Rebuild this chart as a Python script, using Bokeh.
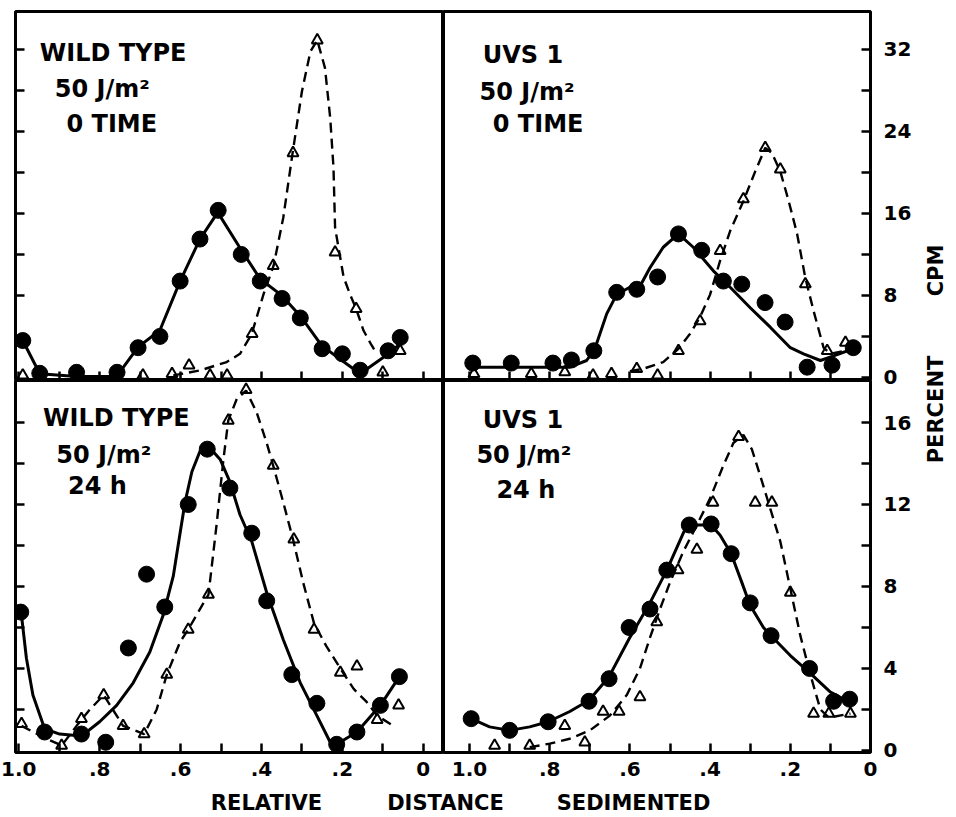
import math
from bokeh.plotting import figure
from bokeh.models import Range1d, FixedTicker, CustomJSTickFormatter, CustomLabelingPolicy
from bokeh.layouts import row, column
from bokeh.embed import file_html
from bokeh.resources import INLINE
from bokeh.core.properties import value

FONT = "DejaVu Sans"

# ---------------- data ----------------
# Top-left: WILD TYPE, 50 J/m2, 0 TIME
tl_circ_x = [0.99, 0.948, 0.857, 0.757, 0.705, 0.651, 0.601, 0.552, 0.507, 0.450, 0.403, 0.349, 0.304, 0.250, 0.200, 0.156, 0.087, 0.057]
tl_circ_y = [3.6, 0.4, 0.5, 0.5, 2.9, 4.0, 9.4, 13.5, 16.3, 12.0, 9.4, 7.7, 5.8, 2.8, 2.3, 0.7, 2.6, 3.9]
tl_solid_x = [0.99, 0.948, 0.857, 0.758, 0.705, 0.651, 0.601, 0.552, 0.508, 0.451, 0.403, 0.350, 0.304, 0.251, 0.201, 0.156, 0.086, 0.057]
tl_solid_y = [3.6, 0.36, 0.1, 0.1, 2.95, 4.6, 9.4, 13.5, 16.1, 12.5, 9.6, 8.0, 6.0, 3.1, 1.65, 0.36, 2.3, 3.3]
tl_tri_x = [0.99, 0.693, 0.621, 0.579, 0.527, 0.485, 0.423, 0.371, 0.322, 0.262, 0.218, 0.166, 0.10, 0.057]
tl_tri_y = [0.2, 0.2, 0.36, 1.17, 0.2, 0.2, 4.25, 10.9, 21.9, 32.9, 12.2, 6.7, 0.5, 2.6]
tl_dash_x = [0.618, 0.552, 0.486, 0.453, 0.424, 0.395, 0.370, 0.346, 0.323, 0.300, 0.279, 0.262, 0.243, 0.230, 0.222, 0.218, 0.197, 0.181, 0.166, 0.148, 0.130, 0.115]
tl_dash_y = [0.2, 0.68, 1.5, 2.3, 4.25, 8.1, 10.9, 15.6, 21.9, 27.9, 31.8, 32.9, 30.2, 25.3, 20.5, 14.6, 9.8, 8.1, 6.7, 4.6, 3.3, 2.3]

# Top-right: UVS 1, 50 J/m2, 0 TIME
tr_circ_x = [0.992, 0.896, 0.792, 0.746, 0.690, 0.633, 0.583, 0.531, 0.479, 0.421, 0.367, 0.321, 0.263, 0.213, 0.158, 0.096, 0.043]
tr_circ_y = [1.4, 1.4, 1.4, 1.7, 2.6, 8.3, 8.6, 9.8, 14.0, 12.4, 9.4, 9.1, 7.3, 5.4, 1.0, 1.2, 2.9]
tr_solid_x = [0.992, 0.750, 0.708, 0.6875, 0.658, 0.633, 0.600, 0.579, 0.550, 0.517, 0.479, 0.442, 0.392, 0.350, 0.300, 0.250, 0.200, 0.167, 0.125, 0.092, 0.043]
tr_solid_y = [1.0, 1.0, 1.65, 2.8, 6.2, 8.1, 8.8, 8.6, 10.7, 12.7, 14.0, 12.7, 10.4, 8.8, 6.8, 4.9, 2.9, 2.3, 1.65, 2.1, 2.8]
tr_tri_x = [0.989, 0.846, 0.7625, 0.692, 0.646, 0.583, 0.531, 0.479, 0.425, 0.375, 0.317, 0.2625, 0.225, 0.1625, 0.108, 0.0625]
tr_tri_y = [0.36, 0.36, 0.52, 0.2, 0.36, 0.84, 0.2, 2.6, 5.5, 12.35, 17.4, 22.4, 20.3, 9.1, 2.6, 3.4]
tr_dash_x = [0.60, 0.567, 0.517, 0.479, 0.450, 0.425, 0.400, 0.375, 0.350, 0.317, 0.2875, 0.2625, 0.246, 0.225, 0.204, 0.183, 0.1625, 0.142, 0.117, 0.100, 0.0625]
tr_dash_y = [0.6, 0.84, 1.5, 2.8, 4.25, 5.9, 8.1, 11.4, 14.3, 17.2, 20.1, 22.4, 21.9, 20.1, 17.2, 14.0, 9.7, 6.5, 2.9, 2.3, 2.6]

# Bottom-left: WILD TYPE, 50 J/m2, 24 h
bl_circ_x = [0.995, 0.936, 0.845, 0.785, 0.729, 0.684, 0.639, 0.581, 0.534, 0.478, 0.424, 0.387, 0.325, 0.263, 0.214, 0.164, 0.106, 0.059]
bl_circ_y = [6.75, 0.9, 0.8, 0.4, 5.0, 8.6, 7.0, 12.0, 14.7, 12.8, 10.6, 7.3, 3.7, 2.3, 0.3, 0.9, 2.2, 3.6]
bl_solid_x = [0.995, 0.981, 0.965, 0.936, 0.899, 0.845, 0.800, 0.758, 0.717, 0.676, 0.643, 0.618, 0.602, 0.589, 0.572, 0.552, 0.534, 0.502, 0.478, 0.453, 0.424, 0.387, 0.346, 0.304, 0.263, 0.230, 0.214, 0.164, 0.106, 0.059]
bl_solid_y = [6.9, 4.5, 2.7, 1.06, 0.8, 0.7, 1.4, 2.2, 3.3, 4.8, 6.6, 8.5, 10.5, 12.1, 13.6, 14.6, 14.9, 14.2, 13.1, 11.5, 10.2, 7.7, 5.4, 3.3, 1.7, 0.4, 0.3, 0.9, 2.2, 3.6]
bl_tri_x = [0.993, 0.894, 0.845, 0.790, 0.742, 0.690, 0.634, 0.581, 0.531, 0.482, 0.438, 0.371, 0.320, 0.270, 0.205, 0.164, 0.114, 0.061]
bl_tri_y = [1.3, 0.24, 1.54, 2.7, 1.2, 0.8, 3.7, 5.9, 7.6, 16.1, 17.6, 13.9, 10.3, 5.9, 3.8, 4.1, 1.5, 2.2]
bl_dash_x = [0.993, 0.940, 0.894, 0.857, 0.824, 0.790, 0.742, 0.690, 0.659, 0.634, 0.601, 0.581, 0.552, 0.531, 0.511, 0.494, 0.482, 0.461, 0.438, 0.412, 0.387, 0.371, 0.346, 0.322, 0.297, 0.270, 0.240, 0.205, 0.172, 0.140, 0.114, 0.074]
bl_dash_y = [1.2, 0.65, 0.24, 1.2, 2.0, 2.7, 1.2, 0.8, 2.0, 3.7, 5.3, 5.9, 6.9, 7.6, 11.0, 14.2, 16.1, 17.15, 17.56, 16.5, 15.0, 13.9, 12.1, 10.3, 8.2, 6.2, 5.1, 4.0, 3.0, 2.37, 1.7, 1.2]

# Bottom-right: UVS 1, 50 J/m2, 24 h
br_circ_x = [0.996, 0.900, 0.804, 0.702, 0.652, 0.602, 0.550, 0.508, 0.452, 0.3975, 0.3475, 0.300, 0.248, 0.152, 0.092, 0.052]
br_circ_y = [1.55, 0.98, 1.4, 2.4, 3.5, 6.0, 6.9, 8.8, 11.0, 11.05, 9.6, 7.2, 5.6, 4.0, 2.4, 2.5]
br_solid_x = [0.996, 0.950, 0.900, 0.850, 0.804, 0.750, 0.702, 0.652, 0.602, 0.550, 0.508, 0.4625, 0.442, 0.3975, 0.375, 0.3475, 0.321, 0.300, 0.267, 0.248, 0.200, 0.152, 0.100, 0.052]
br_solid_y = [1.55, 1.15, 0.98, 1.15, 1.4, 1.9, 2.45, 3.6, 5.45, 7.2, 8.8, 10.8, 11.0, 11.0, 10.5, 9.6, 8.2, 7.07, 6.0, 5.6, 4.63, 3.8, 2.85, 2.35]
br_tri_x = [0.9375, 0.850, 0.7625, 0.7125, 0.667, 0.627, 0.575, 0.533, 0.480, 0.433, 0.393, 0.329, 0.2875, 0.246, 0.200, 0.142, 0.104, 0.050]
br_tri_y = [0.24, 0.24, 1.2, 0.4, 1.9, 1.9, 2.6, 6.26, 8.8, 9.8, 12.1, 15.3, 12.1, 12.1, 7.7, 1.8, 1.8, 1.8]
br_dash_x = [0.850, 0.800, 0.750, 0.700, 0.650, 0.608, 0.575, 0.550, 0.525, 0.500, 0.467, 0.433, 0.400, 0.367, 0.342, 0.317, 0.296, 0.275, 0.250, 0.225, 0.200, 0.175, 0.150, 0.125, 0.104, 0.050]
br_dash_y = [0.16, 0.33, 0.57, 0.98, 1.7, 2.7, 4.0, 5.5, 6.9, 8.2, 9.7, 11.0, 12.3, 13.9, 15.0, 15.4, 14.7, 13.4, 11.8, 10.2, 7.9, 5.6, 3.7, 2.0, 1.6, 1.8]

# panel captions
tl_text = ["WILD TYPE", "50 J/m\u00b2", "0 TIME"]
tr_text = ["UVS 1", "50 J/m\u00b2", "0 TIME"]
bl_text = ["WILD TYPE", "50 J/m\u00b2", "24 h"]
br_text = ["UVS 1", "50 J/m\u00b2", "24 h"]

x_major = [0.0, 0.2, 0.4, 0.6, 0.8, 1.0]
x_minor = [0.1, 0.3, 0.5, 0.7, 0.9]
top_major = [0, 8, 16, 24, 32]
top_minor = [4, 12, 20, 28]
top_labels = ["0", "8", "16", "24", "32"]
bot_major = [0, 4, 8, 12, 16]
bot_minor = [2, 6, 10, 14]
bot_labels = ["0", "4", "8", "12", "16"]

x_title = ["RELATIVE", "DISTANCE", "SEDIMENTED"]
y_title = ["PERCENT", "CPM"]

# ---------------- layout constants ----------------
LEFT_XR = (1.008, -0.05)
RIGHT_XR = (1.065, 0.0)
TOP_YR = (-0.3, 35.7)      # frame y 11..380 px
BOT_YR = (-0.1, 18.05)     # frame y 380..752 px
# same scales as above, extended over the full 0..786 px height of the label column
COL_TOP_YR = (-39.91, 36.77)
COL_BOT_YR = (-1.759, 36.59)

NO_LABELS = CustomLabelingPolicy(code="return []")


def style_axis(ax, major, minor, labels, standoff=0):
    ax.ticker = FixedTicker(ticks=major, minor_ticks=minor)
    ax.axis_line_color = None
    ax.major_tick_in = 9
    ax.major_tick_out = 0
    ax.minor_tick_in = 9
    ax.minor_tick_out = 0
    ax.major_tick_line_width = 2.5
    ax.minor_tick_line_width = 2.5
    ax.major_tick_line_color = "black"
    ax.minor_tick_line_color = "black"
    if labels:
        ax.major_label_text_font = FONT
        ax.major_label_text_font_style = "bold"
        ax.major_label_text_font_size = "20px"
        ax.major_label_text_color = "black"
        ax.major_label_standoff = standoff
    else:
        ax.major_label_policy = NO_LABELS
        ax.major_label_text_font_size = "0px"
        ax.major_label_standoff = 0


def panel(w, h, xr, yr, yloc, borders):
    l, r, t, b = borders
    p = figure(width=w, height=h, x_range=Range1d(*xr), y_range=Range1d(*yr),
               output_backend="svg", toolbar_location=None, tools="",
               y_axis_location=yloc, min_border_left=l, min_border_right=r,
               min_border_top=t, min_border_bottom=b)
    p.grid.visible = False
    p.outline_line_color = "black"
    p.outline_line_width = 3
    p.outline_line_alpha = 1.0
    p.background_fill_color = "white"
    p.border_fill_color = "white"
    return p


def draw(p, cx, cy, sx, sy, tx, ty, dx, dy):
    p.line(dx, dy, line_color="black", line_width=2.4, line_dash="10 6")
    p.line(sx, sy, line_color="black", line_width=3)
    p.scatter(tx, ty, marker="triangle", size=11, fill_color=None,
              line_color="black", line_width=2)
    p.scatter(cx, cy, marker="circle", size=16, fill_color="black",
              line_color="black")


def captions(p, xs, ys, texts):
    p.text(x=xs, y=ys, text=texts, text_font=value(FONT), text_font_style="bold",
           text_font_size="24px", text_align="left", text_baseline="middle",
           text_color="black")


x_fmt = CustomJSTickFormatter(code="""
if (tick > 0.999) { return "1.0"; }
if (tick < 0.001) { return "0"; }
return "." + Math.round(tick * 10);
""")

# top-left
tl = panel(443, 380, LEFT_XR, TOP_YR, "left", (15, 0, 11, 0))
draw(tl, tl_circ_x, tl_circ_y, tl_solid_x, tl_solid_y, tl_tri_x, tl_tri_y, tl_dash_x, tl_dash_y)
captions(tl, [0.948, 0.911, 0.882], [31.7, 28.1, 24.7], tl_text)
style_axis(tl.xaxis[0], x_major, x_minor, False)
style_axis(tl.yaxis[0], [4, 8, 12, 16, 20, 24, 28, 32], [], False)

# top-right
tr = panel(437, 380, RIGHT_XR, TOP_YR, "right", (0, 10, 11, 0))
draw(tr, tr_circ_x, tr_circ_y, tr_solid_x, tr_solid_y, tr_tri_x, tr_tri_y, tr_dash_x, tr_dash_y)
captions(tr, [0.967, 0.975, 0.942], [31.5, 27.8, 24.7], tr_text)
style_axis(tr.xaxis[0], x_major, x_minor, False)
style_axis(tr.yaxis[0], top_major, top_minor, False)

# bottom-left
bl = panel(443, 406, LEFT_XR, BOT_YR, "left", (15, 0, 0, 34))
draw(bl, bl_circ_x, bl_circ_y, bl_solid_x, bl_solid_y, bl_tri_x, bl_tri_y, bl_dash_x, bl_dash_y)
captions(bl, [0.94, 0.907, 0.878], [16.2, 14.4, 12.9], bl_text)
style_axis(bl.xaxis[0], x_major, x_minor, True, standoff=9)
bl.xaxis[0].formatter = x_fmt
style_axis(bl.yaxis[0], [2, 4, 6, 8, 10, 12, 14, 16], [], False)

# bottom-right
br = panel(437, 406, RIGHT_XR, BOT_YR, "right", (0, 10, 0, 34))
draw(br, br_circ_x, br_circ_y, br_solid_x, br_solid_y, br_tri_x, br_tri_y, br_dash_x, br_dash_y)
captions(br, [0.967, 0.983, 0.933], [16.1, 14.4, 12.7], br_text)
style_axis(br.xaxis[0], x_major, x_minor, True, standoff=9)
br.xaxis[0].formatter = x_fmt
style_axis(br.yaxis[0], bot_major, bot_minor, False)


def blank(w, h, yr=None):
    p = figure(width=w, height=h, x_range=Range1d(0, w),
               y_range=Range1d(*(yr if yr else (h, 0))),
               output_backend="svg", toolbar_location=None, tools="",
               min_border=0)
    p.axis.visible = False
    p.grid.visible = False
    p.outline_line_color = None
    p.background_fill_color = "white"
    p.border_fill_color = "white"
    return p


# right-hand column: tick labels of both right axes and the vertical title
rc = blank(74, 786, COL_TOP_YR)
rc.extra_y_ranges = {"bot": Range1d(*COL_BOT_YR), "px": Range1d(786, 0)}
lab_kw = dict(text_font=value(FONT), text_font_style="bold", text_font_size="20px",
              text_align="left", text_baseline="middle", text_color="black")
rc.text(x=[3] * len(top_major), y=top_major, text=top_labels, **lab_kw)
rc.text(x=[3] * len(bot_major), y=bot_major, text=bot_labels, y_range_name="bot", **lab_kw)
rc.text(x=[55, 55], y=[409, 270], text=y_title, angle=math.pi / 2, y_range_name="px",
        text_font=value(FONT), text_font_style="bold", text_font_size="21px",
        text_align="center", text_baseline="middle", text_color="black")

# bottom horizontal title
bf = blank(954, 29)
bf.text(x=[266, 445, 633], y=[16, 16, 16], text=x_title,
        text_font=value(FONT), text_font_style="bold", text_font_size="21px",
        text_align="center", text_baseline="middle", text_color="black")

body = row(column(tl, bl), column(tr, br), rc)
layout = column(body, bf)

open("out.html", "w").write(file_html(layout, INLINE))
